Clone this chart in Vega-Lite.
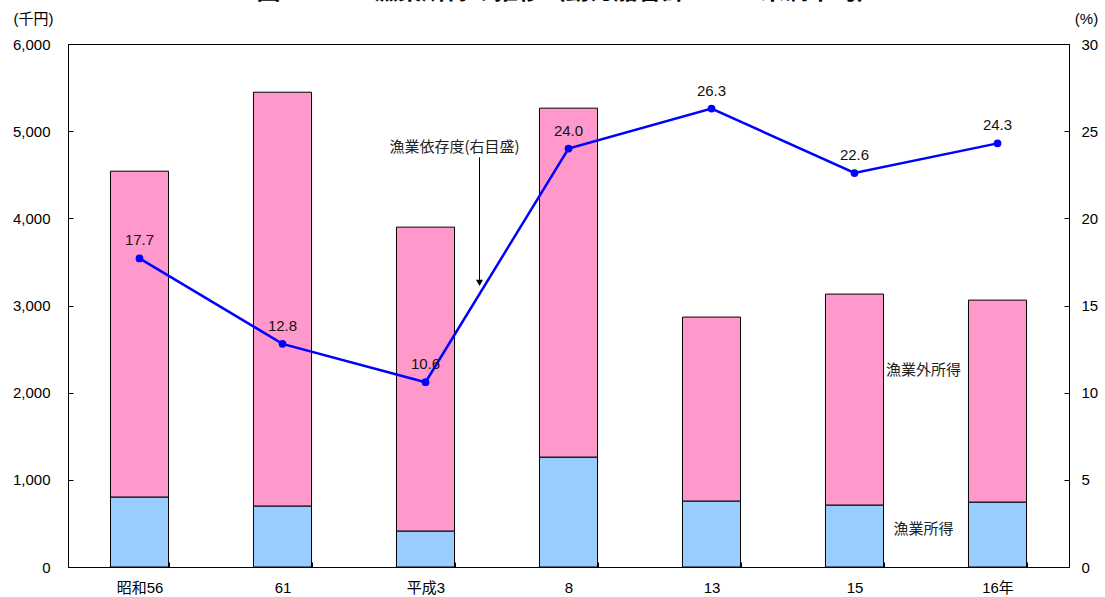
{
  "$schema": "https://vega.github.io/schema/vega-lite/v6.json",
  "width": 1001,
  "height": 523,
  "autosize": {"type": "none"},
  "padding": {"left": 68, "top": 44, "right": 36, "bottom": 30},
  "background": "white",
  "title": {
    "text": "図2-32-3　漁業所得の推移（動力船合計10トン未満平均）",
    "fontSize": 24,
    "fontWeight": "bold",
    "color": "black",
    "anchor": "middle",
    "baseline": "alphabetic",
    "offset": 4,
    "dy": 16
  },
  "config": {
    "font": "Liberation Sans, Noto Sans CJK JP",
    "view": {"stroke": "black", "strokeWidth": 1},
    "axis": {
      "labelFont": "Liberation Sans, Noto Sans CJK JP",
      "labelFontSize": 15,
      "labelColor": "black",
      "titleFont": "Liberation Sans, Noto Sans CJK JP",
      "titleFontSize": 15,
      "titleFontWeight": "normal",
      "titleColor": "black",
      "domainColor": "black",
      "tickColor": "black",
      "grid": false
    }
  },
  "datasets": {
    "bars": [
      {"年": "昭和56", "区分": "漁業所得", "金額": 803},
      {"年": "昭和56", "区分": "漁業外所得", "金額": 3738},
      {"年": "61", "区分": "漁業所得", "金額": 700},
      {"年": "61", "区分": "漁業外所得", "金額": 4747},
      {"年": "平成3", "区分": "漁業所得", "金額": 413},
      {"年": "平成3", "区分": "漁業外所得", "金額": 3486},
      {"年": "8", "区分": "漁業所得", "金額": 1261},
      {"年": "8", "区分": "漁業外所得", "金額": 4003},
      {"年": "13", "区分": "漁業所得", "金額": 757},
      {"年": "13", "区分": "漁業外所得", "金額": 2110},
      {"年": "15", "区分": "漁業所得", "金額": 711},
      {"年": "15", "区分": "漁業外所得", "金額": 2420},
      {"年": "16年", "区分": "漁業所得", "金額": 745},
      {"年": "16年", "区分": "漁業外所得", "金額": 2317}
    ],
    "rate": [
      {"年": "昭和56", "依存度": 17.7},
      {"年": "61", "依存度": 12.8},
      {"年": "平成3", "依存度": 10.6},
      {"年": "8", "依存度": 24.0},
      {"年": "13", "依存度": 26.3},
      {"年": "15", "依存度": 22.6},
      {"年": "16年", "依存度": 24.3}
    ],
    "legendLabels": [
      {"年": "15", "label": "漁業外所得", "金額": 2259},
      {"年": "15", "label": "漁業所得", "金額": 436}
    ],
    "note": [
      {"年": "平成3", "label": "漁業依存度(右目盛)", "top": 24.1, "from": 23.5, "to": 16.3}
    ]
  },
  "encoding": {
    "x": {
      "field": "年",
      "type": "nominal",
      "sort": ["昭和56", "61", "平成3", "8", "13", "15", "16年"],
      "scale": {"paddingInner": 0.594, "paddingOuter": 0.297},
      "axis": {
        "title": null,
        "labelAngle": 0,
        "tickBand": "extent",
        "tickSize": -5,
        "labelPadding": 18
      }
    }
  },
  "layer": [
    {
      "layer": [
        {
          "data": {"name": "bars"},
          "mark": {"type": "bar", "stroke": "black", "strokeWidth": 1},
          "encoding": {
            "y": {
              "field": "金額",
              "type": "quantitative",
              "stack": "zero",
              "scale": {"domain": [0, 6000], "nice": false},
              "axis": {
                "title": "(千円)",
                "titleAngle": 0,
                "titleAlign": "center",
                "titleBaseline": "middle",
                "titleX": -35,
                "titleY": -26,
                "values": [0, 1000, 2000, 3000, 4000, 5000, 6000],
                "format": ",d",
                "tickSize": -5,
                "labelPadding": 23
              }
            },
            "color": {
              "field": "区分",
              "type": "nominal",
              "scale": {"domain": ["漁業所得", "漁業外所得"], "range": ["#99CCFF", "#FF99CC"]},
              "legend": null
            },
            "order": {"field": "区分", "sort": "descending"}
          }
        },
        {
          "data": {"name": "legendLabels"},
          "mark": {"type": "text", "dx": 69, "fontSize": 15, "font": "Noto Sans CJK JP", "color": "#222222"},
          "encoding": {
            "y": {"field": "金額", "type": "quantitative"},
            "text": {"field": "label"}
          }
        }
      ]
    },
    {
      "layer": [
        {
          "data": {"name": "rate"},
          "mark": {"type": "line", "color": "#0000FF", "strokeWidth": 2.5},
          "encoding": {
            "y": {
              "field": "依存度",
              "type": "quantitative",
              "scale": {"domain": [0, 30], "nice": false},
              "axis": {
                "orient": "right",
                "title": "(%)",
                "titleAngle": 0,
                "titleAlign": "center",
                "titleBaseline": "middle",
                "titleX": 17,
                "titleY": -26,
                "values": [0, 5, 10, 15, 20, 25, 30],
                "tickSize": -5,
                "labelPadding": 17
              }
            }
          }
        },
        {
          "data": {"name": "rate"},
          "mark": {"type": "point", "filled": true, "opacity": 1, "color": "#0000FF", "size": 60, "shape": "circle"},
          "encoding": {
            "y": {"field": "依存度", "type": "quantitative"}
          }
        },
        {
          "data": {"name": "rate"},
          "mark": {"type": "text", "dy": -18, "fontSize": 15, "color": "#111111"},
          "encoding": {
            "y": {"field": "依存度", "type": "quantitative"},
            "text": {"field": "依存度", "format": ".1f"}
          }
        },
        {
          "data": {"name": "note"},
          "mark": {"type": "rule", "color": "black", "strokeWidth": 1, "xOffset": 54},
          "encoding": {
            "y": {"field": "from", "type": "quantitative"},
            "y2": {"field": "to"}
          }
        },
        {
          "data": {"name": "note"},
          "mark": {"type": "point", "shape": "triangle-down", "filled": true, "opacity": 1, "color": "black", "size": 50, "xOffset": 54},
          "encoding": {
            "y": {"field": "to", "type": "quantitative"}
          }
        },
        {
          "data": {"name": "note"},
          "mark": {"type": "text", "dx": 29, "fontSize": 15, "font": "Noto Sans CJK JP", "color": "#222222"},
          "encoding": {
            "y": {"field": "top", "type": "quantitative"},
            "text": {"field": "label"}
          }
        }
      ]
    }
  ],
  "resolve": {"scale": {"y": "independent"}}
}
